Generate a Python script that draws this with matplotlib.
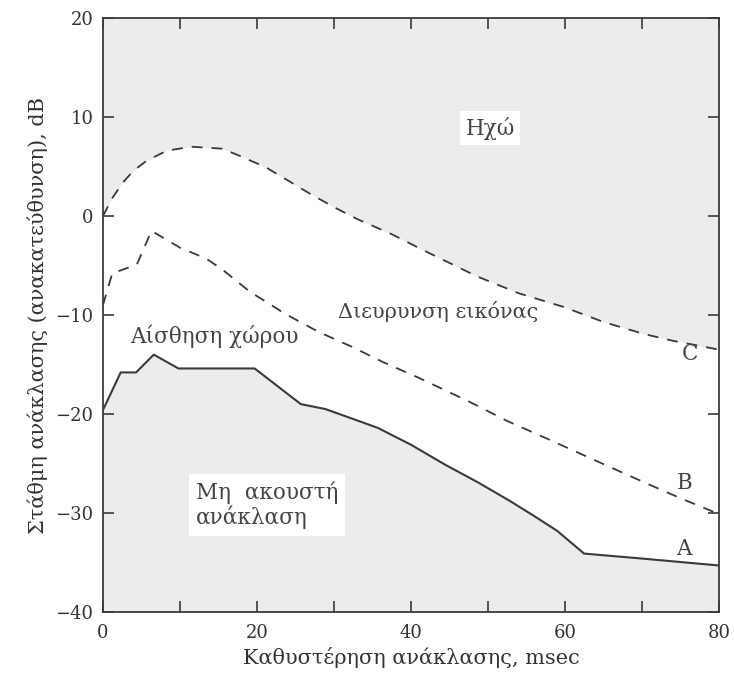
import numpy as np
import matplotlib
matplotlib.use("Agg")
import matplotlib.pyplot as plt

plt.rcParams['font.family'] = ['DejaVu Serif']

# curve C (echo threshold), dashed
c_x = [0, 1.2, 2.6, 4, 5.7, 8.3, 11.5, 15.5, 18, 21.2, 24, 27, 30, 33, 37.4, 42, 48.6, 54, 59.9, 65, 70.2, 74, 77.4, 80]
c_y = [0, 1.8, 3.4, 4.6, 5.6, 6.6, 7.0, 6.8, 6.0, 4.9, 3.6, 2.2, 0.9, -0.3, -1.8, -3.6, -6.1, -7.8, -9.2, -10.7, -11.9, -12.6, -13.1, -13.5]

# curve B (image broadening), dashed
b_x = [0, 1.2, 4.4, 6.3, 10, 13.4, 15.5, 19, 23.7, 28, 32.3, 36.5, 40.9, 47.7, 52.5, 58, 63.7, 70, 75, 80]
b_y = [-9.0, -5.8, -4.9, -1.5, -3.2, -4.3, -5.4, -7.6, -9.9, -11.7, -13.2, -14.8, -16.3, -18.8, -20.7, -22.6, -24.6, -26.8, -28.5, -30.1]

# curve A (audibility threshold), solid
a_x = [0, 2.3, 4.3, 6.6, 9.8, 19.7, 25.7, 28.9, 33.2, 35.7, 40, 44.4, 48.7, 52.9, 56, 59, 62.5, 70, 80]
a_y = [-19.6, -15.8, -15.8, -14.0, -15.4, -15.4, -19.0, -19.5, -20.7, -21.4, -23.1, -25.1, -26.9, -28.8, -30.3, -31.8, -34.1, -34.6, -35.3]

x_ticks = [0, 20, 40, 60, 80]
x_minor = [10, 30, 50, 70]
y_ticks = [-40, -30, -20, -10, 0, 10, 20]

fig = plt.figure(figsize=(7.34, 6.8), dpi=100)
ax = fig.add_axes([0.1403, 0.1, 0.839, 0.8735])

shade = '#ececec'
ink = '#3a3a3a'

ax.fill_between(c_x, c_y, 20, color=shade, lw=0, zorder=0)
ax.fill_between(a_x, -40, a_y, color=shade, lw=0, zorder=0)

ax.plot(c_x, c_y, color=ink, lw=1.3, dashes=(6, 5))
ax.plot(b_x, b_y, color=ink, lw=1.3, dashes=(6, 5))
ax.plot(a_x, a_y, color=ink, lw=1.5)

ax.set_xlim(0, 80)
ax.set_ylim(-40, 20)
ax.set_xticks(x_ticks)
ax.set_xticks(x_minor, minor=True)
ax.set_yticks(y_ticks)
ax.tick_params(which='both', direction='in', length=8, width=1.2, color=ink,
               top=True, right=True, labelsize=13, labelcolor='#333333')
ax.tick_params(axis='x', pad=9)
ax.tick_params(axis='y', pad=7)
for s in ax.spines.values():
    s.set_color(ink)
    s.set_linewidth(1.3)

ax.set_xlabel('Καθυστέρηση ανάκλασης, msec', fontsize=15, color='#333333', labelpad=3)
ax.set_ylabel('Στάθμη ανάκλασης (ανακατεύθυνση), dB', fontsize=15, color='#333333', labelpad=5)

txt = dict(color='#444444', fontsize=15.5)
ax.text(50.3, 8.85, 'Ηχώ', ha='center', va='center',
        bbox=dict(facecolor='white', edgecolor='none', pad=4), **txt)
ax.text(43.6, -9.6, 'Διευρυνση εικόνας', ha='center', va='center',
        color='#444444', fontsize=15)
ax.text(14.5, -12.2, 'Αίσθηση χώρου', ha='center', va='center', **txt)
ax.text(12.1, -29.2, 'Μη  ακουστή\nανάκλαση', ha='left', va='center', linespacing=1.1,
        bbox=dict(facecolor='white', edgecolor='none', pad=5), **txt)
ax.text(76.2, -13.9, 'C', ha='center', va='center', **txt)
ax.text(75.6, -27.0, 'B', ha='center', va='center', **txt)
ax.text(75.5, -33.6, 'A', ha='center', va='center', **txt)

fig.savefig('out.png', dpi=100)
